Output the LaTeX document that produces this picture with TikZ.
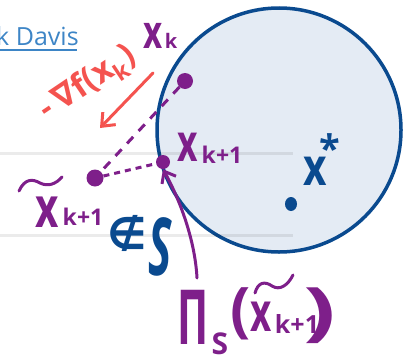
\documentclass[tikz,border=0pt]{standalone}
\usepackage{graphicx}
\usepackage{fontspec}
\setmainfont{Open Sans}
\newfontfamily\dejavu{DejaVu Sans}
\usetikzlibrary{arrows.meta,shapes.geometric}
\definecolor{purp}{HTML}{7E1F8A}
\definecolor{navy}{HTML}{0A4A8F}
\definecolor{fillb}{HTML}{E4EBF4}
\definecolor{redp}{HTML}{F4534F}
\definecolor{linkb}{HTML}{3D85C6}
\tikzset{
  dotpt/.style={circle,fill=purp,inner sep=0pt},
  plab/.style={text=purp,inner sep=0pt,font=\bfseries},
  blab/.style={text=navy,inner sep=0pt,font=\bfseries},
  rule/.style={line width=3pt,black,opacity=0.08},
  hand/.style={line width=3pt,line cap=round},
}
\newcommand{\hx}[2]{\scalebox{#2}[1]{\fontsize{#1}{#1}\selectfont x}}
\newcommand{\fs}[1]{\fontsize{#1}{#1}\selectfont}
\begin{document}
\begin{tikzpicture}[x=1pt,y=-1pt]
\useasboundingbox (0,0) rectangle (414,356);
% header link
\node[anchor=base west,inner sep=0pt,text=linkb] (hdr) at (-4,45) {\fs{25}k Davis};
\draw[linkb,line width=2pt] (0,50) -- (77,50);
% constraint set
\node[circle,draw=navy,fill=fillb,line width=3.5pt,minimum size=244pt,inner sep=0pt] (S) at (279,130) {};
% page rules
\draw[rule] (0,153) -- (293,153);
\draw[rule] (0,235) -- (293,235);
% points
\node[dotpt,minimum size=16pt] (xk) at (185,81) {};
\node[dotpt,minimum size=14pt] (xk1) at (163,162) {};
\node[dotpt,minimum size=17pt] (xt) at (95,178) {};
\node[ellipse,fill=navy,inner sep=0pt,minimum width=12pt,minimum height=14pt] (xs) at (291,204) {};
% connectors
\draw[purp,line width=3pt,dash pattern=on 9pt off 8pt] (xk) -- (xt);
\draw[purp,line width=3pt,dash pattern=on 6pt off 5pt] (xt) -- (xk1);
% gradient step
\coordinate (ga) at (153,73);
\coordinate (gb) at (100,128);
\draw[redp,hand,-{Straight Barb[length=11pt,width=18pt,line width=3pt]}] (ga) -- (gb);
\node[text=redp,rotate=34,inner sep=0pt,font=\bfseries] (grad) at (88,84) {\fs{33}-\,{\dejavu ∇}f(x\textsubscript{k})};
% x_k
\node[plab] (lxk) at (153,36) {\hx{46}{0.72}};
\node[plab] (lxks) at (171,41) {\fs{20}k};
% x_{k+1}
\node[plab] (lxk1) at (188,147) {\hx{52}{0.68}};
\node[plab] (lxk1s) at (222,155) {\fs{23}k+1};
% tilde x_{k+1}
\draw[purp,hand] (19,191) .. controls (25,178) and (33,179) .. (40,183) .. controls (48,187) and (56,184) .. (62,177);
\node[plab] (lxt) at (47,212) {\hx{56}{0.72}};
\node[plab] (lxts) at (83,217) {\fs{23}k+1};
% not in S
\node[blab] (nin) at (127,233) {\fs{44}\dejavu ∉};
\node[blab] (setS) at (160,247) {\scalebox{0.55}[1]{\fs{80}\itshape S}};
% x*
\node[blab] (lxs) at (315,171) {\hx{52}{0.78}};
\node[blab] (lxst) at (330,148) {\fs{38}*};
% projection label
\node[plab] (pi) at (193,317) {\scalebox{0.55}[1]{\fs{76}Π}};
\node[plab] (piS) at (220,344) {\fs{30}S};
\node[plab] (lp) at (241,314) {\fs{60}(};
\draw[purp,hand] (255,293) .. controls (258,282) and (265,281) .. (272,286) .. controls (280,291) and (288,285) .. (293,275);
\node[plab] (px) at (261,317) {\hx{54}{0.68}};
\node[plab] (pk) at (297,324) {\fs{25}k+1};
\node[plab] (rp) at (320,316) {\scalebox{1.5}[1]{\fs{64})}};
% projection arrow
\draw[purp,hand,-{Straight Barb[length=10pt,width=16pt,line width=3pt]}] (197,278) .. controls (195,240) and (180,200) .. (xk1.south);
\end{tikzpicture}
\end{document}
